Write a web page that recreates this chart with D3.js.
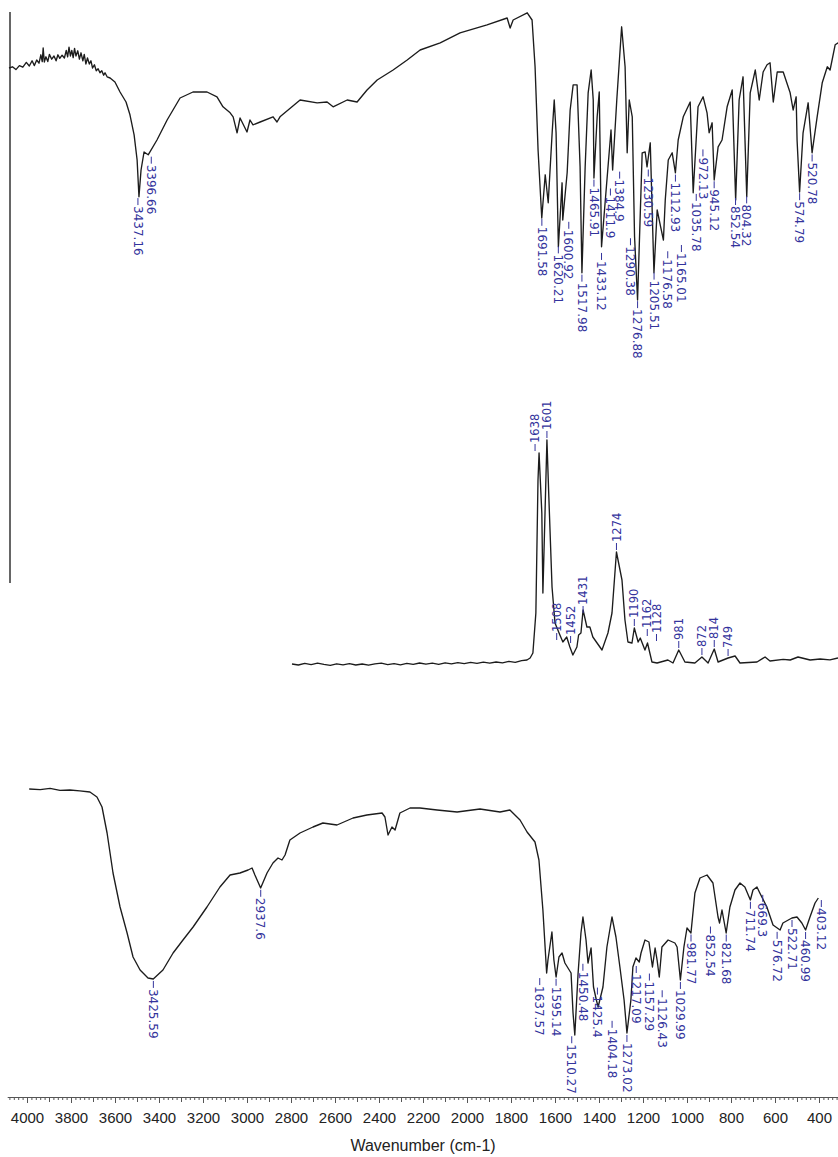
<!DOCTYPE html>
<html>
<head>
<meta charset="utf-8">
<script src="https://cdn.jsdelivr.net/npm/d3@7"></script>
<style>
  body { margin: 0; background: #fff; }
  svg { display: block; }
</style>
</head>
<body>
<svg id="chart" width="838" height="1157"></svg>
<script>
// ---- data: [wavenumber cm-1, value] ----

// top FTIR spectrum (% transmittance)
const irTop = [
  [4000,83],[3985,83.3],[3970,82.6],[3955,83.6],[3940,83.2],[3925,84.4],[3912,83.5],[3900,84.8],
  [3890,83.6],[3880,85],[3870,84.2],[3862,86.3],[3856,84.6],[3852,88],[3847,84.5],[3840,85.8],
  [3832,84.6],[3825,86.4],[3815,85.2],[3805,86],[3796,84.8],[3788,86.3],[3780,85.4],[3770,86.2],
  [3760,85.5],[3752,87.4],[3746,85.8],[3740,88.2],[3734,86],[3728,87.4],[3722,85.6],[3716,87.9],
  [3710,86],[3702,87.3],[3695,85.2],[3688,86.8],[3680,84.8],[3674,86.4],[3667,84],[3660,85.5],
  [3652,84],[3645,84.8],[3638,83],[3630,83.8],[3622,82.3],[3614,82.8],[3606,81.8],[3598,82.3],
  [3590,81.2],[3584,81.8],[3575,80.8],[3562,80.5],[3541,79.5],[3519,77],[3493,74.5],[3476,71.3],
  [3458,66.3],[3445,60],[3437,50.8],[3428,57.5],[3415,62],[3397,61.3],[3359,65],[3315,70],
  [3259,75.5],[3203,77],[3142,77],[3099,75.8],[3073,73.3],[3042,71.8],[3029,70.8],[3012,66.8],
  [2999,70.5],[2969,67],[2956,70],[2943,68.8],[2912,69.5],[2856,70.8],[2839,69.5],[2826,70.8],
  [2739,75],[2665,74.3],[2622,74.5],[2596,73.3],[2535,75],[2492,74.5],[2449,77.5],[2405,80],
  [2336,82.5],[2275,85],[2219,87.5],[2132,89.3],[2046,91.8],[1929,93.8],[1842,95.5],[1829,93],
  [1816,95],[1755,96.8],[1734,95],[1721,83.3],[1708,62.5],[1692,45.5],[1677,56.3],[1664,49.3],
  [1647,66.8],[1638,75],[1630,66.8],[1620,38.3],[1604,54.3],[1601,45],[1582,56.8],[1569,72.5],
  [1556,78.8],[1539,78.8],[1526,58.3],[1518,31.8],[1504,58.3],[1491,76.8],[1478,82.5],[1469,75],
  [1466,55.5],[1452,70.8],[1443,77],[1433,38.3],[1412,53.3],[1392,67.5],[1385,57.5],[1367,75],
  [1346,93.3],[1331,83.3],[1322,61.8],[1313,75],[1300,70.8],[1290,40.8],[1277,25],[1257,61.8],
  [1244,62],[1236,58.3],[1222,64.3],[1206,31.8],[1192,47.5],[1177,43.3],[1165,40],[1157,50],
  [1144,60],[1127,61.8],[1113,56.8],[1101,65],[1079,70.8],[1049,74.5],[1036,51.8],[1015,73.3],
  [993,75.8],[976,71.8],[967,66.8],[954,69.3],[945,55],[928,63.3],[911,65],[889,73.3],
  [867,77.5],[852,50],[837,75],[820,80.8],[804,50.8],[789,76.8],[767,82.5],[750,75],
  [733,82],[716,83.8],[703,84.3],[689,74.5],[672,82],[646,82],[616,76.8],[603,72.5],
  [590,75.8],[586,65],[575,52],[560,66.8],[538,74.3],[521,61.8],[499,70.8],[477,79.3],
  [455,83.3],[443,82.5],[421,88.8],[408,89.3]
];
const irTopPeaks = [3437.16, 3396.66, 1691.58, 1620.21, 1600.92, 1517.98, 1465.91, 1433.12,
  1411.9, 1384.9, 1290.38, 1276.88, 1230.59, 1205.51, 1176.58, 1165.01, 1112.93, 1035.78,
  972.13, 945.12, 852.54, 804.32, 574.79, 520.78];

// middle Raman spectrum (intensity, a.u.)
const raman = [
  [2800,0.5],[2770,0],[2740,0.8],[2710,0.2],[2680,0.9],[2650,0.3],[2620,-0.2],[2590,0.6],
  [2560,0.1],[2530,0.7],[2500,0],[2470,0.5],[2440,-0.1],[2410,0.6],[2380,0.9],[2350,0.2],
  [2320,0.7],[2290,0.1],[2260,0.8],[2230,0.3],[2200,1],[2170,0.4],[2140,0.9],[2110,0.3],
  [2080,1.1],[2050,0.6],[2020,1.2],[1990,0.7],[1960,1.3],[1930,0.8],[1900,1.4],[1870,0.9],
  [1840,1.5],[1810,1.1],[1780,1.8],[1750,1.3],[1720,2.2],[1695,2.5],[1680,3.5],[1667,6],
  [1653,26],[1643,92.5],[1638,106],[1625,76],[1620,36],[1610,76],[1601,112.5],[1592,84],
  [1577,39],[1563,21],[1540,15],[1526,11.5],[1508,14],[1493,9],[1479,5],[1460,9],
  [1452,15],[1441,16],[1431,27.5],[1413,19],[1399,19],[1385,14],[1342,7.5],[1314,16],
  [1295,26],[1274,56.5],[1248,42.5],[1234,22.5],[1220,11.5],[1201,11],[1190,18.5],[1172,11.5],
  [1162,13.5],[1140,7.5],[1128,11],[1107,1.5],[1083,1],[1032,2.5],[1008,1],[981,7.5],
  [952,1.5],[905,1],[872,4],[843,1],[814,8],[796,1.5],[749,3.5],[716,4.5],
  [693,1],[613,1.5],[575,4],[552,2],[490,2.8],[457,2.5],[420,4],[363,2.5],
  [316,3],[270,2.6],[232,3.5]
];
const ramanPeaks = [1638, 1601, 1508, 1452, 1431, 1274, 1190, 1162, 1128, 981, 872, 814, 749];

// bottom FTIR spectrum (% transmittance)
const irBottom = [
  [3990,97.75],[3940,97.6],[3895,97.9],[3850,97.4],[3805,97.5],[3760,97.3],[3714,97],[3682,95.75],
  [3659,93.25],[3636,86.75],[3609,76.75],[3577,68.25],[3545,61.75],[3518,55.75],[3486,52.5],[3450,50.5],
  [3426,50.25],[3382,52.5],[3336,56.75],[3291,60],[3245,63.25],[3182,68.25],[3123,73.25],[3077,76.25],
  [3032,76.75],[2995,77.5],[2977,78],[2964,76.25],[2938,73],[2909,76.75],[2882,79.25],[2859,80.5],
  [2841,80],[2827,81.25],[2805,85],[2759,86.75],[2700,88.25],[2655,89.25],[2591,88.75],[2518,90.5],
  [2455,91.25],[2386,91.75],[2373,90.75],[2359,86.25],[2341,88.25],[2327,87.5],[2305,91.75],[2259,93],
  [2214,93],[2136,92.5],[2045,92],[1941,92.75],[1850,92],[1805,92.5],[1759,90],[1727,87],
  [1691,84.5],[1673,80],[1655,67.5],[1638,51.75],[1632,55],[1614,62],[1605,55],[1595,50.75],
  [1582,55.75],[1568,56.75],[1555,54.25],[1541,53],[1527,51.75],[1518,41.75],[1510,36.25],[1495,51.75],
  [1482,61.75],[1473,65.75],[1459,60],[1450,54.25],[1436,58],[1425,48.25],[1412,45],[1404,43.25],
  [1382,48.25],[1364,58.25],[1341,65.75],[1323,60.75],[1305,53.25],[1286,45],[1273,36.75],[1255,45],
  [1246,53.25],[1232,55.5],[1217,54.5],[1209,56.75],[1191,60],[1173,59.5],[1157,53.25],[1145,58],
  [1136,55],[1126,50.75],[1114,58.25],[1086,60],[1055,59.25],[1045,58.25],[1030,50],[1014,58.25],
  [1000,63],[982,61.75],[964,71.75],[941,75.5],[909,76.25],[882,74.25],[859,65.75],[852,64.25],
  [841,67.5],[822,61.75],[805,68.25],[782,72.5],[759,74.25],[737,73.25],[712,70],[700,72.5],
  [682,73.25],[669,71.75],[637,68.25],[609,63.75],[577,62.5],[564,64.25],[523,65.5],[500,65.75],
  [478,64.25],[461,62.5],[441,65.75],[418,69.25],[403,70.5]
];
const irBottomPeaks = [3425.59, 2937.6, 1637.57, 1595.14, 1510.27, 1450.48, 1425.4, 1404.18,
  1273.02, 1217.09, 1157.29, 1126.43, 1029.99, 981.77, 852.54, 821.68, 711.74, 669.3,
  576.72, 522.71, 460.99, 403.12];

const axisTicks = d3.range(400, 4001, 200);
const axisTitle = 'Wavenumber (cm-1)';

// label nudges where the peak labels were pushed aside in the original
const nudgeTop = { 3437.16: [-1, 0], 3396.66: [3, 0], 1600.92: [6, 0], 1411.9: [4, 0],
  1384.9: [7, 0], 1290.38: [-4, 4], 1230.59: [0, 10], 1176.58: [7, 22], 1165.01: [18, 3],
  1035.78: [3, 0], 972.13: [-5, 26], 1433.12: [0, 6] };
const nudgeRaman = { 1638: [-4, 0], 1508: [-10, -5], 1452: [-8, -10], 1431: [0, -5],
  1162: [7, 0], 1128: [9, 0] };
const nudgeBottom = { 1637.57: [-7, 4], 1510.27: [-3, 0], 1450.48: [-5, 0], 1425.4: [4, 0],
  1404.18: [14, 12], 1217.09: [-3, 2], 1157.29: [-3, 5], 1126.43: [3, 12], 852.54: [-9, 2],
  669.3: [3, 0], 576.72: [-3, 0], 403.12: [3, 0] };

const svg = d3.select('#chart');
const lineColor = '#1c1c1c';
const labelColor = '#33339c';

// scales, one per panel
const xA = d3.scaleLinear().domain([4000, 400]).range([9, 840]);
const yA = d3.scaleLinear().domain([0, 100]).range([400, 0]);
const xB = d3.scaleLinear().domain([2800, 232]).range([292, 838]);
const yB = d3.scaleLinear().domain([0, 120]).range([665, 425]);
const xC = d3.scaleLinear().domain([4000, 400]).range([27, 819]);
const yC = d3.scaleLinear().domain([0, 100]).range([1180, 780]);

function valueAt(data, w) {
  for (let i = 0; i < data.length - 1; i++) {
    const [w0, v0] = data[i];
    const [w1, v1] = data[i + 1];
    if (w <= w0 && w >= w1) return v0 + (v1 - v0) * (w - w0) / (w1 - w0);
  }
  return data[data.length - 1][1];
}

function drawSpectrum(data, x, y) {
  const line = d3.line().x(d => x(d[0])).y(d => y(d[1]));
  svg.append('path')
    .datum(data)
    .attr('fill', 'none')
    .attr('stroke', lineColor)
    .attr('stroke-width', 1.35)
    .attr('stroke-linejoin', 'round')
    .attr('d', line);
}

// dir = 1 : labels hang below minima (IR), dir = -1 : labels sit above maxima (Raman)
function drawLabels(data, peaks, x, y, dir, nudge, fontSize) {
  const g = svg.append('g');
  peaks.forEach(p => {
    const [dx, dy] = nudge[p] || [0, 0];
    const px = x(p) + dx;
    const py = y(valueAt(data, p)) + dir * (2 + dy);
    g.append('line')
      .attr('x1', px).attr('x2', px)
      .attr('y1', py).attr('y2', py + dir * 7)
      .attr('stroke', labelColor)
      .attr('stroke-width', 1);
    g.append('text')
      .attr('transform', `translate(${px},${py + dir * 8}) rotate(${dir * 90})`)
      .attr('dy', '0.36em')
      .attr('fill', labelColor)
      .attr('font-family', '"DejaVu Sans", sans-serif')
      .attr('font-size', fontSize)
      .text(String(p));
  });
}

// left axis line of the upper plot
svg.append('line')
  .attr('x1', xA(4000) + 1).attr('x2', xA(4000) + 1)
  .attr('y1', 12).attr('y2', 583)
  .attr('stroke', '#333')
  .attr('stroke-width', 1.5);

drawSpectrum(irTop, xA, yA);
drawLabels(irTop, irTopPeaks, xA, yA, 1, nudgeTop, 12);

drawSpectrum(raman, xB, yB);
drawLabels(raman, ramanPeaks, xB, yB, -1, nudgeRaman, 11.5);

drawSpectrum(irBottom, xC, yC);
drawLabels(irBottom, irBottomPeaks, xC, yC, 1, nudgeBottom, 12);

// bottom wavenumber ruler
const xAxisScale = xC.copy().domain([4090, 310]).range([xC(4090), xC(310)]);
const axisY = 1097;
const axisG = svg.append('g').attr('transform', `translate(0,${axisY})`);

axisG.append('g')
  .call(d3.axisBottom(xAxisScale).tickValues(d3.range(320, 4090, 20)).tickSize(3).tickFormat(''))
  .call(g => g.select('.domain').remove());
axisG.append('g')
  .call(d3.axisBottom(xAxisScale).tickValues(d3.range(300, 4090, 100)).tickSize(5).tickFormat(''))
  .call(g => g.select('.domain').remove());
axisG.append('g')
  .call(d3.axisBottom(xAxisScale).tickValues(axisTicks).tickSize(6).tickPadding(9)
    .tickSizeOuter(0).tickFormat(d3.format('d')))
  .call(g => g.selectAll('text')
    .attr('font-family', 'Arial, "Liberation Sans", sans-serif')
    .attr('font-size', 15)
    .attr('fill', '#222'));
axisG.selectAll('line, path').attr('stroke', '#555');

svg.append('text')
  .attr('x', 423)
  .attr('y', 1151)
  .attr('text-anchor', 'middle')
  .attr('font-family', 'Arial, "Liberation Sans", sans-serif')
  .attr('font-size', 16)
  .attr('fill', '#222')
  .text(axisTitle);
</script>
</body>
</html>
